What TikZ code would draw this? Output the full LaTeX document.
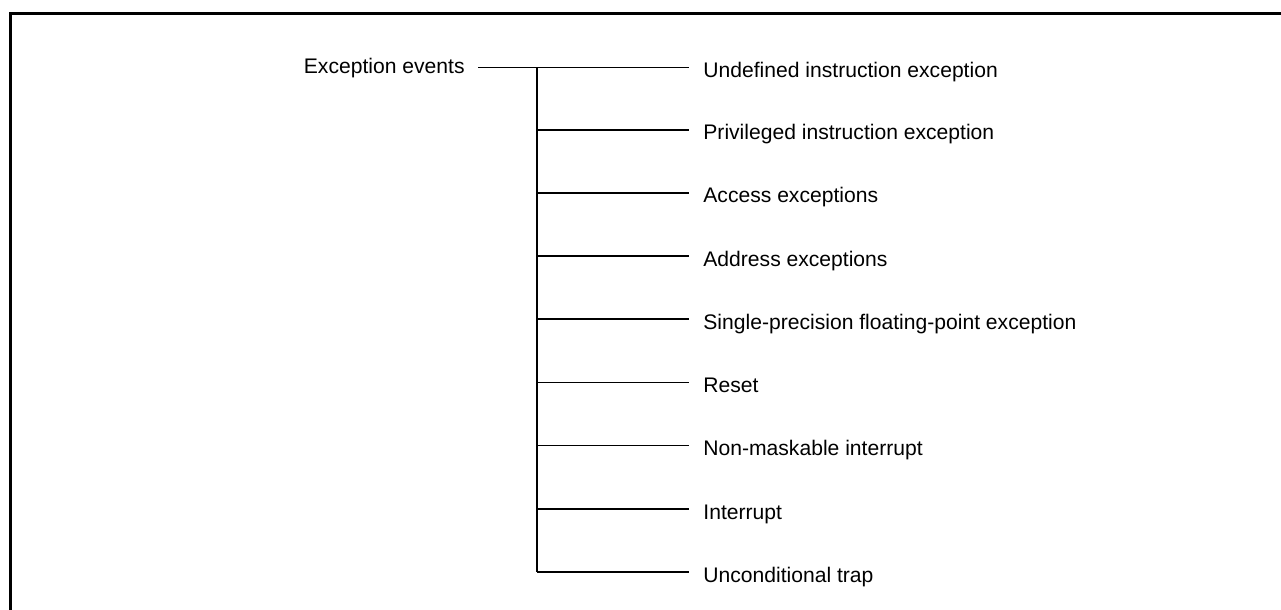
\documentclass[tikz,border=0pt]{standalone}
\usepackage{fontspec}
\setmainfont{Liberation Sans}
\begin{document}
\begin{tikzpicture}[x=0.5pt,y=-0.5pt,
  frameline/.style={line width=1.5pt,line cap=rect},
  conn/.style={line width=0.65pt},
  lbl/.style={anchor=base west,inner xsep=7pt,inner ysep=0pt,font=\fontsize{10.55}{12}\selectfont},
  rootlbl/.style={anchor=base east,inner xsep=6.5pt,inner ysep=0pt,font=\fontsize{10.55}{12}\selectfont}]
\useasboundingbox (0,0) rectangle (1281,610);
\draw[frameline] (10.5,620) -- (10.5,13.5) -- (1290,13.5);
\node[rootlbl] (r) at (478,73.5) {Exception events};
\foreach \i/\y/\t in {1/67.5/Undefined instruction exception,
  2/130/Privileged instruction exception,
  3/193/Access exceptions,
  4/256/Address exceptions,
  5/319/Single-precision floating-point exception,
  6/382.5/Reset,
  7/445.5/Non-maskable interrupt,
  8/509/Interrupt,
  9/572/Unconditional trap}{
  \coordinate (j\i) at (537,\y);
  \node[lbl] (l\i) at (689,\y+10) {\t};
  \draw[conn] (j\i) -- (j\i -| l\i.west);
}
\draw[conn] (r.east |- j1) -- (j1);
\draw[conn] (j1) -- (j9);
\end{tikzpicture}
\end{document}
